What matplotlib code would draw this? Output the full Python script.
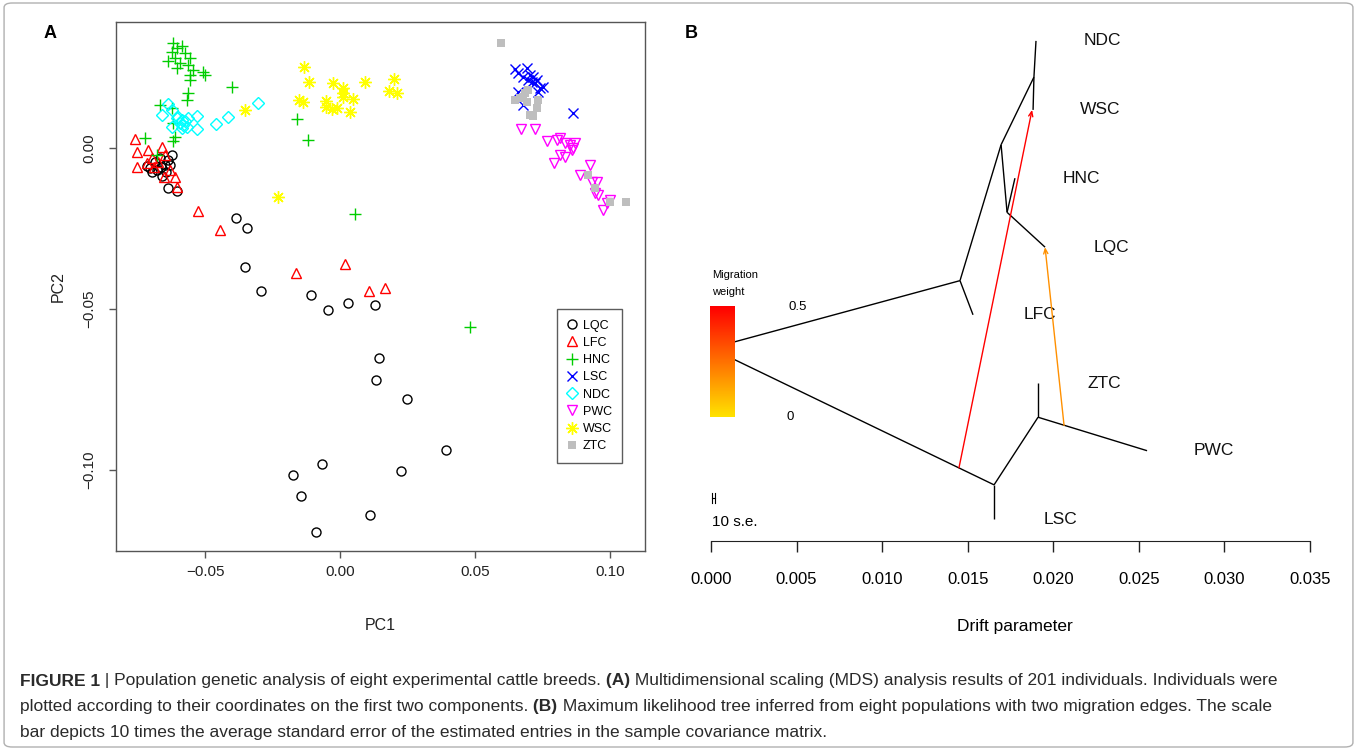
import numpy as np
import matplotlib.pyplot as plt
from matplotlib.colors import LinearSegmentedColormap
from matplotlib.patches import FancyBboxPatch

# ---------------- panel A: MDS coordinates (PC1, PC2) ----------------
lqc_x = [-0.0622, -0.0637, -0.0648, -0.0663, -0.0696, -0.0678, -0.0659, -0.0637, -0.0604, -0.0715,
         -0.0685, -0.0667, -0.0704, -0.0644, -0.0630,
         -0.0385, -0.0346, -0.0352, -0.0293, -0.0109, -0.0046, 0.0029, 0.0131, 0.0143, 0.0132,
         0.0247, 0.0393, 0.0227, -0.0068, -0.0175, -0.0144, 0.0110, -0.0089]
lqc_y = [-0.0022, -0.0037, -0.0053, -0.0059, -0.0075, -0.0068, -0.0087, -0.0124, -0.0134, -0.0056,
         -0.0044, -0.0031, -0.0062, -0.0075, -0.0053,
         -0.0218, -0.0248, -0.0369, -0.0443, -0.0458, -0.0503, -0.0481, -0.0489, -0.0654, -0.0721,
         -0.0779, -0.0938, -0.1002, -0.0982, -0.1017, -0.1080, -0.1140, -0.1194]

lfc_x = [-0.0759, -0.0753, -0.0751, -0.0710, -0.0660, -0.0716, -0.0691, -0.0648, -0.0697, -0.0611,
         -0.0605, -0.0654, -0.0673, -0.0630, -0.0525, -0.0444, -0.0163, 0.0017, 0.0106, 0.0166]
lfc_y = [0.0027, -0.0012, -0.0060, -0.0006, 0.0004, -0.0048, -0.0058, -0.0022, -0.0032, -0.0089,
         -0.0120, -0.0089, -0.0043, -0.0068, -0.0196, -0.0255, -0.0389, -0.0360, -0.0445, -0.0436]

hnc_x = [-0.0617, -0.0605, -0.0586, -0.0623, -0.0636, -0.0611, -0.0574, -0.0556, -0.0593, -0.0562,
         -0.0543, -0.0605, -0.0556, -0.0506, -0.0500, -0.0556, -0.0401, -0.0562, -0.0568, -0.0667,
         -0.0623, -0.0617, -0.0611, -0.0617, -0.0722, -0.0160, -0.0117, 0.0056, 0.0481, -0.0678]
hnc_y = [0.0325, 0.0310, 0.0315, 0.0299, 0.0271, 0.0279, 0.0294, 0.0279, 0.0263, 0.0258,
         0.0242, 0.0248, 0.0227, 0.0237, 0.0227, 0.0211, 0.0190, 0.0170, 0.0149, 0.0134,
         0.0123, 0.0077, 0.0035, 0.0020, 0.0030, 0.0089, 0.0025, -0.0205, -0.0556, -0.0022]

lsc_x = [0.0648, 0.0660, 0.0691, 0.0679, 0.0697, 0.0716, 0.0722, 0.0741, 0.0753, 0.0734,
         0.0710, 0.0660, 0.0679, 0.0862, 0.0704, 0.0729]
lsc_y = [0.0244, 0.0232, 0.0248, 0.0221, 0.0211, 0.0221, 0.0201, 0.0185, 0.0190, 0.0175,
         0.0206, 0.0175, 0.0134, 0.0108, 0.0227, 0.0211]

ndc_x = [-0.0636, -0.0660, -0.0623, -0.0599, -0.0586, -0.0580, -0.0574, -0.0593, -0.0568, -0.0586,
         -0.0605, -0.0562, -0.0531, -0.0531, -0.0459, -0.0416, -0.0303, -0.0622]
ndc_y = [0.0137, 0.0103, 0.0118, 0.0097, 0.0087, 0.0071, 0.0082, 0.0077, 0.0066, 0.0061,
         0.0092, 0.0092, 0.0099, 0.0058, 0.0074, 0.0095, 0.0139, 0.0065]

pwc_x = [0.0669, 0.0722, 0.0766, 0.0803, 0.0815, 0.0833, 0.0852, 0.0870, 0.0864, 0.0815, 0.0833,
         0.0793, 0.0926, 0.0889, 0.0932, 0.0951, 0.0944, 0.0957, 0.0988, 0.0975, 0.1000, 0.0858]
pwc_y = [0.0058, 0.0058, 0.0020, 0.0025, 0.0030, 0.0016, 0.0009, 0.0015, -0.0001, -0.0022, -0.0027,
         -0.0048, -0.0053, -0.0084, -0.0105, -0.0105, -0.0141, -0.0146, -0.0172, -0.0193, -0.0161, -0.0006]

wsc_x = [-0.0133, -0.0114, -0.0025, 0.0010, 0.0012, 0.0047, 0.0093, 0.0200, 0.0183, 0.0210,
         -0.0151, -0.0136, -0.0052, -0.0052, -0.0031, -0.0010, 0.0037, 0.0010, -0.0352, -0.0231]
wsc_y = [0.0251, 0.0206, 0.0201, 0.0185, 0.0159, 0.0151, 0.0204, 0.0213, 0.0177, 0.0170,
         0.0149, 0.0141, 0.0147, 0.0128, 0.0120, 0.0125, 0.0113, 0.0170, 0.0118, -0.0154]

ztc_x = [0.0596, 0.0685, 0.0667, 0.0648, 0.0691, 0.0734, 0.0729, 0.0704, 0.0716, 0.0679, 0.0697,
         0.0920, 0.0944, 0.1000, 0.1058]
ztc_y = [0.0325, 0.0170, 0.0154, 0.0149, 0.0144, 0.0149, 0.0123, 0.0103, 0.0099, 0.0159, 0.0180,
         -0.0084, -0.0125, -0.0167, -0.0167]

breeds = ['LQC', 'LFC', 'HNC', 'LSC', 'NDC', 'PWC', 'WSC', 'ZTC']
xticks_a = [-0.05, 0.00, 0.05, 0.10]
yticks_a = [-0.10, -0.05, 0.00]

# ---------------- panel B: treemix tree ----------------
# node name -> (drift, vertical position)
node_x = {'root': 0.0, 'A': 0.01455, 'B': 0.01695, 'C': 0.01887, 'D': 0.01730, 'E': 0.01654, 'F': 0.01911,
          'NDC': 0.01899, 'WSC': 0.01882, 'HNC': 0.01776, 'LQC': 0.01952, 'LFC': 0.01531,
          'LSC': 0.01654, 'ZTC': 0.01911, 'PWC': 0.02548}
node_y = {'root': 3.50, 'A': 4.49, 'B': 6.48, 'C': 7.47, 'D': 5.49, 'E': 1.50, 'F': 2.49,
          'NDC': 8.0, 'WSC': 6.99, 'HNC': 5.99, 'LQC': 4.98, 'LFC': 3.99,
          'LSC': 1.0, 'ZTC': 2.99, 'PWC': 2.0}
edges = [('root', 'A'), ('A', 'LFC'), ('A', 'B'), ('B', 'C'), ('C', 'NDC'), ('C', 'WSC'),
         ('B', 'D'), ('D', 'HNC'), ('D', 'LQC'), ('root', 'E'), ('E', 'LSC'), ('E', 'F'),
         ('F', 'ZTC'), ('F', 'PWC')]
leaves = ['NDC', 'WSC', 'HNC', 'LQC', 'LFC', 'ZTC', 'PWC', 'LSC']
# migration edges: (from x, from y, to x, to y, weight)
mig_from_x = [0.01449, 0.02063]
mig_from_y = [1.75, 2.37]
mig_to_x = [0.01876, 0.01952]
mig_to_y = [6.99, 4.98]
mig_w = [0.5, 0.25]
drift_ticks = [0.000, 0.005, 0.010, 0.015, 0.020, 0.025, 0.030, 0.035]
se10 = 0.0002

W, H = 1357, 750
fig = plt.figure(figsize=(W / 100, H / 100), dpi=100)
fig.patch.set_facecolor('white')


def fx(px):
    return px / W


def fy(py):
    return 1 - py / H


SANS = ['Liberation Sans', 'DejaVu Sans']
plt.rcParams['font.family'] = SANS

# ---- panel A ----
axA = fig.add_axes([fx(116), fy(551), fx(645) - fx(116), fy(22) - fy(551)])
styles = [
    dict(marker='o', mfc='none', mec='black', ms=6.5, mew=1.0),
    dict(marker='^', mfc='none', mec='#FF0000', ms=7.5, mew=1.0),
    dict(marker='+', mfc='none', mec='#00CD00', ms=9, mew=1.0),
    dict(marker='x', mfc='none', mec='#0000FF', ms=6.5, mew=1.0),
    dict(marker='D', mfc='none', mec='#00FFFF', ms=6.5, mew=1.0),
    dict(marker='v', mfc='none', mec='#FF00FF', ms=7.5, mew=1.0),
    dict(marker=(8, 2, 0), mfc='none', mec='#FFFF00', ms=9, mew=1.0),
    dict(marker='s', mfc='#BEBEBE', mec='#BEBEBE', ms=5.5, mew=0),
]
xs = [lqc_x, lfc_x, hnc_x, lsc_x, ndc_x, pwc_x, wsc_x, ztc_x]
ys = [lqc_y, lfc_y, hnc_y, lsc_y, ndc_y, pwc_y, wsc_y, ztc_y]
handles = []
for name, x, y, st in zip(breeds, xs, ys, styles):
    h, = axA.plot(x, y, linestyle='none', label=name, **st)
    handles.append(h)

axA.set_xlim(-0.0830, 0.1130)
axA.set_ylim(-0.1252, 0.0391)
axA.set_xticks(xticks_a)
axA.set_xticklabels(['\u22120.05', '0.00', '0.05', '0.10'])
axA.set_yticks(yticks_a)
axA.set_yticklabels(['\u22120.10', '\u22120.05', '0.00'], rotation=90, va='center')
for s in axA.spines.values():
    s.set_color('#555555')
    s.set_linewidth(1.0)
axA.tick_params(direction='out', length=5, width=1, color='#555555', labelsize=11,
                labelcolor='#222222', pad=5)
axA.tick_params(axis='y', pad=9)
axA.set_xlabel('PC1', fontsize=11.5, color='#222222', labelpad=28)
axA.set_ylabel('PC2', fontsize=11.5, color='#222222', labelpad=12)

leg = axA.legend(handles=handles, loc='upper left', bbox_to_anchor=(fx(557), fy(309)),
                 bbox_transform=fig.transFigure, borderaxespad=0, fontsize=9,
                 frameon=True, fancybox=False, edgecolor='#333333', handlelength=0.7,
                 handletextpad=0.5, labelspacing=0.42, borderpad=0.85)
leg.get_frame().set_linewidth(1.0)

fig.text(fx(50), fy(33), 'A', fontsize=13, fontweight='bold', ha='center', va='center')
fig.text(fx(691), fy(33), 'B', fontsize=13, fontweight='bold', ha='center', va='center')

# ---- panel B ----
axB = fig.add_axes([fx(690), fy(541), fx(1340) - fx(690), fy(20) - fy(541)])
axB.set_xlim(-0.001227, 0.036754)
axB.set_ylim(0.678, 8.306)
for a, b in edges:
    axB.plot([node_x[a], node_x[b]], [node_y[a], node_y[b]], color='black', lw=1.0,
             solid_capstyle='butt', zorder=2)
for lf in leaves:
    axB.text(node_x[lf] + 0.0039, node_y[lf], lf, ha='center', va='center',
             fontsize=12.5, color='#111111')

heat = LinearSegmentedColormap.from_list('heat', ['#FFE200', '#FF0000'])
for x0, y0, x1, y1, w in zip(mig_from_x, mig_from_y, mig_to_x, mig_to_y, mig_w):
    c = heat(w / 0.5 if w >= 0.5 else w / 0.5 * 0.72)
    axB.annotate('', xy=(x1, y1), xytext=(x0, y0),
                 arrowprops=dict(arrowstyle='->,head_length=0.35,head_width=0.15',
                                 color=c, lw=1.0, shrinkA=0, shrinkB=0), zorder=3)

# migration weight scale
grad = np.linspace(0, 1, 100).reshape(-1, 1)
axB.imshow(grad, extent=(-0.00004, 0.0014, 2.493, 4.104), aspect='auto', cmap=heat,
           origin='lower', zorder=4)
axB.text(0.00006, 4.57, 'Migration', fontsize=8, ha='left', va='center')
axB.text(0.00006, 4.33, 'weight', fontsize=8, ha='left', va='center')
axB.text(0.0045, 4.10, '0.5', fontsize=9.5, ha='left', va='center')
axB.text(0.0044, 2.49, '0', fontsize=9.5, ha='left', va='center')

# scale bar (10 s.e.)
axB.plot([0.00006, 0.00006 + se10], [1.31, 1.31], color='black', lw=0.8)
axB.plot([0.00006, 0.00006], [1.24, 1.38], color='black', lw=0.8)
axB.plot([0.00006 + se10, 0.00006 + se10], [1.24, 1.38], color='black', lw=0.8)
axB.text(0.00006, 0.96, '10 s.e.', fontsize=11, ha='left', va='center')

for k in ['top', 'right', 'left']:
    axB.spines[k].set_visible(False)
axB.spines['bottom'].set_bounds(drift_ticks[0], drift_ticks[-1])
axB.spines['bottom'].set_color('#222222')
axB.set_yticks([])
axB.set_xticks(drift_ticks)
axB.set_xticklabels(['%.3f' % t for t in drift_ticks])
axB.tick_params(axis='x', direction='out', length=8, width=1, color='#222222',
                labelsize=12, pad=14)
axB.set_xlabel('Drift parameter', fontsize=12.5, labelpad=23)
axB.patch.set_alpha(0)

# ---- caption ----
caption = [
    [('FIGURE 1', 'bold'), (' | Population genetic analysis of eight experimental cattle breeds.', 'normal'),
     (' (A)', 'bold'), (' Multidimensional scaling (MDS) analysis results of 201 individuals. Individuals were', 'normal')],
    [('plotted according to their coordinates on the first two components.', 'normal'), (' (B)', 'bold'),
     (' Maximum likelihood tree inferred from eight populations with two migration edges. The scale', 'normal')],
    [('bar depicts 10 times the average standard error of the estimated entries in the sample covariance matrix.', 'normal')],
]
renderer = fig.canvas.get_renderer()
for i, line in enumerate(caption):
    x = fx(20)
    for s, wgt in line:
        t = fig.text(x, fy(681 + 26 * i), s, fontsize=12.5, fontweight=wgt,
                     color='#2a2a2a', ha='left', va='center')
        x += t.get_window_extent(renderer=renderer).width / fig.bbox.width

fig.patches.append(FancyBboxPatch((0.003, 0.004), 0.994, 0.992, boxstyle='round,pad=0,rounding_size=0.006',
                                  transform=fig.transFigure, fill=False, edgecolor='#b0b0b0', lw=1.0))

fig.savefig('out.png', dpi=100)
